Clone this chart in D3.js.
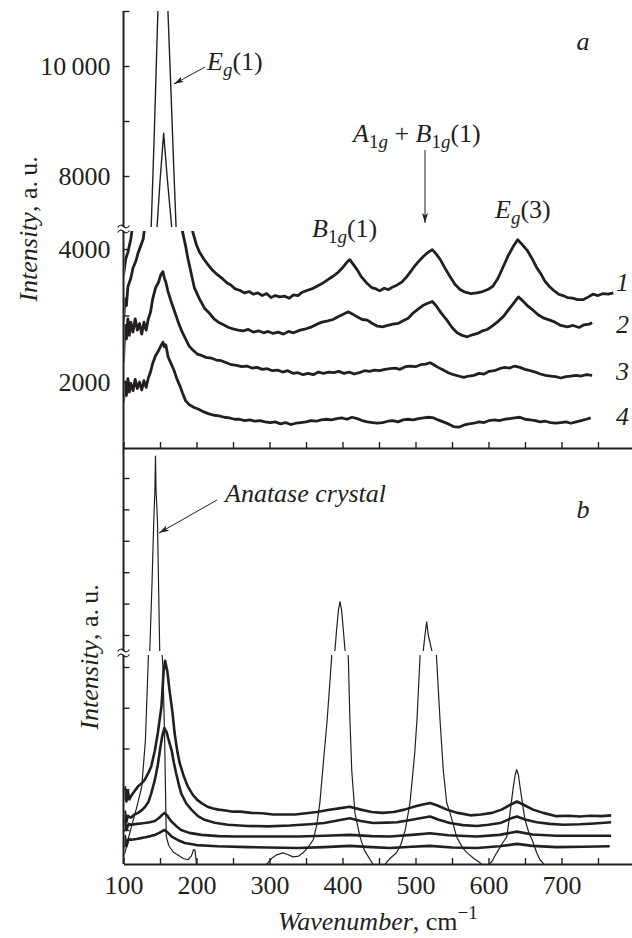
<!DOCTYPE html>
<html>
<head>
<meta charset="utf-8">
<script src="https://cdn.jsdelivr.net/npm/d3@7"></script>
<style>
  body { margin: 0; background: #fff; }
  svg { display: block; }
  text { font-family: "Liberation Serif", "Times New Roman", serif; font-size: 26px; fill: #231f20; }
</style>
</head>
<body>
<svg width="632" height="938"></svg>
<script>
let svg = d3.select("svg");

const INK = "#231f20";
const SUB = 19;

//////////// DATA ////////////
// tick labels
const ticksX = [100, 200, 300, 400, 500, 600, 700];
const labelsYa = { 2000: "2000", 4000: "4000", 8000: "8000", 10000: "10\u2009000" };
const curveLabels = ["1", "2", "3", "4"];

// panel a: Raman spectra of samples 1-4, [wavenumber, intensity]
const specA1 = [[100,3600],[103,3850],[106,3950],[110,4150],[114,4450],[120,5000],[128,5900],[134,6600],[138,7100],[142,8700],[147,10950],[151,12800],[154,13500],[157,12900],[161,10950],[165,9550],[169,8100],[172,7080],[178,5900],[186,4950],[195,4250],[200,4060],[204,3955],[210,3850],[216,3760],[222,3680],[229,3610],[236,3550],[242,3490],[247,3460],[253,3400],[259,3380],[266,3340],[272,3360],[278,3320],[284,3340],[290,3300],[296,3330],[302,3270],[308,3300],[314,3280],[321,3290],[327,3260],[333,3310],[339,3300],[345,3350],[352,3380],[358,3400],[365,3440],[372,3480],[380,3540],[387,3590],[394,3650],[401,3730],[406,3800],[410,3840],[414,3780],[420,3690],[426,3580],[433,3490],[440,3420],[446,3400],[451,3370],[457,3410],[463,3390],[469,3430],[475,3460],[481,3500],[487,3570],[492,3640],[498,3730],[504,3810],[510,3880],[516,3940],[523,3990],[528,3930],[534,3840],[540,3720],[547,3590],[554,3470],[561,3390],[568,3350],[576,3330],[584,3340],[592,3360],[599,3390],[606,3440],[613,3560],[620,3730],[627,3900],[634,4040],[640,4140],[646,4070],[653,3980],[660,3850],[666,3720],[671,3640],[677,3520],[683,3440],[689,3380],[696,3320],[702,3300],[708,3270],[715,3260],[722,3240],[730,3240],[737,3280],[743,3320],[750,3300],[757,3330],[764,3320],[771,3340]];
const specA2 = [[100,2900],[102,3250],[104,3150],[106,3430],[110,3560],[113,3714],[117,3820],[120,3940],[124,4060],[127,4150],[131,4500],[136,5400],[141,6200],[146,7080],[150,7900],[155,8780],[160,7950],[166,7080],[172,5600],[177,4750],[181,4250],[185,4050],[188,3870],[193,3620],[197,3420],[204,3250],[211,3110],[218,3030],[224,2950],[230,2900],[237,2860],[244,2820],[250,2800],[257,2780],[264,2770],[271,2790],[278,2750],[285,2770],[292,2740],[298,2760],[305,2730],[312,2750],[319,2720],[326,2760],[333,2740],[342,2780],[350,2800],[358,2830],[365,2870],[372,2900],[380,2920],[387,2940],[394,2980],[401,3020],[408,3055],[414,3020],[420,2980],[427,2940],[434,2930],[441,2880],[448,2840],[455,2830],[462,2850],[469,2870],[476,2880],[483,2920],[490,2960],[497,3040],[504,3100],[510,3150],[516,3180],[523,3210],[528,3150],[535,3040],[543,2930],[550,2820],[557,2740],[564,2700],[571,2680],[578,2710],[585,2730],[592,2770],[598,2790],[605,2840],[612,2900],[620,2980],[627,3080],[634,3180],[641,3280],[647,3220],[654,3140],[661,3080],[668,3010],[676,2960],[684,2930],[691,2900],[699,2850],[708,2830],[716,2850],[724,2820],[731,2860],[738,2870],[742,2890]];
const specA3 = [[100,2300],[102,2850],[104,2650],[106,2950],[108,2700],[110,2900],[113,2750],[116,2950],[119,2780],[122,2880],[125,2720],[128,2900],[131,2780],[134,2950],[137,3050],[140,3250],[144,3420],[148,3500],[151,3610],[154,3660],[156,3560],[158,3500],[161,3360],[165,3220],[170,3060],[175,2900],[180,2760],[185,2650],[190,2540],[195,2480],[201,2420],[207,2400],[213,2370],[220,2360],[227,2330],[234,2320],[241,2290],[248,2260],[255,2250],[262,2230],[269,2240],[276,2210],[283,2220],[290,2190],[297,2200],[304,2170],[311,2180],[318,2150],[325,2170],[332,2130],[339,2140],[346,2110],[353,2130],[360,2110],[367,2150],[374,2130],[381,2150],[388,2140],[395,2160],[402,2130],[409,2150],[416,2120],[423,2140],[430,2170],[437,2160],[444,2180],[451,2170],[458,2190],[465,2200],[472,2210],[479,2190],[486,2230],[493,2240],[500,2230],[507,2260],[514,2270],[520,2290],[525,2260],[531,2220],[538,2180],[545,2140],[552,2110],[559,2090],[566,2070],[573,2090],[580,2100],[587,2130],[594,2120],[601,2160],[608,2170],[615,2200],[622,2220],[629,2210],[636,2240],[643,2220],[650,2190],[657,2170],[664,2150],[671,2120],[678,2100],[685,2090],[692,2080],[699,2060],[706,2080],[713,2090],[720,2100],[727,2090],[734,2110],[742,2100]];
const specA4 = [[100,1700],[102,2000],[104,1800],[106,2050],[108,1850],[110,1980],[113,1870],[116,2040],[119,1900],[122,2000],[125,1880],[128,2020],[131,1920],[134,2060],[137,2150],[140,2280],[144,2400],[148,2470],[151,2540],[154,2600],[156,2530],[158,2560],[161,2380],[165,2280],[169,2180],[173,2050],[177,1950],[181,1830],[185,1720],[190,1660],[196,1620],[203,1590],[210,1550],[217,1520],[224,1500],[231,1490],[238,1470],[245,1460],[252,1440],[259,1440],[266,1420],[273,1430],[280,1410],[287,1420],[294,1400],[301,1390],[308,1400],[315,1370],[322,1390],[329,1360],[336,1380],[343,1390],[350,1400],[357,1420],[364,1410],[371,1430],[378,1440],[385,1430],[392,1450],[399,1460],[406,1440],[413,1470],[420,1450],[427,1420],[434,1400],[441,1390],[448,1380],[455,1390],[462,1410],[469,1420],[476,1400],[483,1430],[490,1440],[497,1430],[504,1450],[511,1460],[518,1470],[525,1460],[531,1430],[538,1400],[545,1370],[552,1330],[559,1320],[566,1350],[573,1370],[580,1380],[587,1400],[594,1390],[601,1420],[608,1430],[615,1420],[622,1440],[629,1450],[636,1460],[643,1470],[650,1440],[657,1430],[664,1420],[671,1400],[678,1410],[685,1390],[692,1380],[699,1390],[706,1400],[713,1380],[720,1400],[727,1420],[734,1440],[740,1460]];

// panel b: same samples (arbitrary units) and the anatase crystal reference
const specB1 = [[100,1.75],[102,2.05],[104,1.7],[106,1.95],[108,1.75],[111,1.85],[115,1.95],[120,2.07],[125,2.15],[129,2.23],[134,2.4],[138,2.56],[143,2.95],[147,3.38],[152,4.03],[155,4.9],[157,5.15],[160,4.9],[163,4.44],[167,3.9],[170,3.38],[174,2.9],[177,2.64],[182,2.35],[188,2.07],[195,1.86],[201,1.74],[207,1.66],[215,1.57],[223,1.53],[230,1.5],[240,1.48],[250,1.45],[260,1.45],[275,1.42],[290,1.41],[305,1.38],[320,1.38],[335,1.38],[350,1.41],[365,1.44],[380,1.49],[395,1.53],[410,1.57],[425,1.5],[440,1.44],[455,1.42],[470,1.44],[485,1.5],[500,1.58],[513,1.64],[520,1.66],[530,1.6],[543,1.5],[558,1.42],[575,1.36],[590,1.38],[605,1.42],[618,1.5],[630,1.62],[639,1.7],[648,1.62],[661,1.5],[675,1.42],[693,1.34],[710,1.35],[725,1.33],[740,1.35],[755,1.34],[768,1.36]];
const specB2 = [[100,1.15],[102,1.45],[104,1.2],[106,1.35],[110,1.3],[115,1.38],[120,1.42],[126,1.5],[130,1.58],[134,1.68],[138,1.9],[143,2.23],[147,2.6],[150,2.97],[153,3.3],[156,3.5],[159,3.4],[162,3.2],[166,2.95],[169,2.65],[172,2.4],[176,2.1],[179,1.9],[186,1.65],[193,1.5],[202,1.34],[211,1.25],[225,1.18],[243,1.13],[270,1.1],[298,1.09],[328,1.11],[355,1.14],[375,1.17],[395,1.24],[410,1.29],[425,1.22],[442,1.17],[460,1.18],[475,1.19],[495,1.25],[510,1.3],[520,1.33],[532,1.25],[547,1.17],[565,1.12],[584,1.1],[600,1.13],[616,1.17],[630,1.28],[639,1.33],[650,1.26],[666,1.19],[684,1.15],[703,1.13],[725,1.14],[745,1.16],[768,1.19]];
const specB3 = [[100,0.95],[102,1.25],[104,1.0],[107,1.15],[111,1.13],[118,1.15],[124,1.16],[129,1.17],[136,1.19],[143,1.22],[149,1.3],[153,1.37],[156,1.42],[160,1.35],[165,1.22],[172,1.1],[179,1.0],[190,0.93],[207,0.88],[230,0.85],[252,0.84],[300,0.84],[339,0.84],[375,0.86],[410,0.88],[440,0.85],[465,0.84],[495,0.88],[520,0.92],[545,0.87],[584,0.84],[615,0.88],[639,0.96],[660,0.89],[693,0.86],[730,0.86],[768,0.86]];
const specB4 = [[100,0.55],[102,0.85],[104,0.6],[107,0.78],[111,0.76],[118,0.78],[124,0.8],[130,0.82],[137,0.85],[143,0.88],[149,0.93],[153,0.97],[156,1.0],[160,0.95],[166,0.84],[175,0.75],[184,0.68],[200,0.63],[229,0.6],[270,0.58],[339,0.56],[375,0.58],[410,0.61],[440,0.58],[465,0.56],[495,0.59],[520,0.61],[550,0.57],[584,0.56],[615,0.6],[639,0.66],[660,0.61],[693,0.58],[730,0.59],[766,0.6]];
const specCrystal = [[100,0.35],[102,0.44],[106,0.75],[111,1.09],[118,1.55],[125,2.06],[130,3.2],[134,5.2],[136,7.6],[139,18],[141.5,28.3],[143,33],[143.8,38.5],[144.6,33],[146.5,28.3],[149.6,7.6],[151,5.9],[154,5.0],[156.4,3.2],[158.6,0.84],[162,0.62],[168,0.46],[175,0.38],[182,0.3],[188,0.27],[193,0.36],[196,0.52],[198,0.5],[200,0.15],[210,0.05],[290,0.05],[298,0.2],[304,0.32],[310,0.39],[318,0.44],[325,0.4],[332,0.34],[340,0.36],[346,0.44],[353,0.58],[360,0.76],[365,1.15],[369,1.67],[374,2.7],[379,3.7],[385,5.2],[389.7,7.6],[392,11],[394.5,14],[396.6,15.3],[398.7,14],[401,11],[403.4,7.6],[408,5.2],[410,3.8],[412.6,2.48],[417,1.42],[424,0.83],[430,0.5],[438,0.27],[443,0.12],[455,0.05],[460,0.2],[465,0.3],[474,0.44],[480,0.65],[486,1.0],[492.5,1.67],[499,2.9],[502,3.7],[506,5.18],[510.7,7.6],[513,10],[515.3,12.1],[517.5,10],[522.2,7.6],[529,5.18],[533.6,3.7],[538,2.48],[542.7,1.67],[547.3,1.42],[556.4,0.83],[565,0.55],[572,0.42],[580,0.3],[588,0.2],[594,0.1],[600,0.15],[604.4,0.22],[611.2,0.44],[620,0.7],[625,0.83],[629.5,1.42],[634,2.06],[636.5,2.35],[638.6,2.48],[641,2.35],[643.2,2.06],[647,1.6],[650,1.25],[655,0.95],[660,0.75],[666,0.44],[670.5,0.27],[675,0.18],[680,0.05],[770,0.05]];

//////////// LAYOUT ////////////
const LEFT = 123.5, RIGHT = 634.5;
const A_TOP = 11, A_BREAK = 229, A_BOTTOM = 448;
const B_BREAK = 653, B_BOTTOM = 864;

const x = d3.scaleLinear().domain([100, 800]).range([LEFT, RIGHT]);
// broken intensity axes: upper and lower part of each panel
const yAU = d3.scaleLinear().domain([8000, 11000]).range([176, A_TOP]);
const yAL = d3.scaleLinear().domain([2000, 4000]).range([382, 249]);
const yBU = d3.scaleLinear().domain([10, 35]).range([635, 478]);
const yBL = d3.scaleLinear().domain([1, 5]).range([830, 667]);

const defs = svg.append("defs");
const clips = {
  aUpper: [A_TOP, A_BREAK - 2],
  aLower: [A_BREAK + 2, A_BOTTOM],
  bUpper: [A_BOTTOM + 1, B_BREAK - 2],
  bLower: [B_BREAK + 2, B_BOTTOM],
};
Object.entries(clips).forEach(([id, [y0, y1]]) => {
  defs.append("clipPath").attr("id", id)
    .append("rect")
    .attr("x", LEFT + 1).attr("y", y0)
    .attr("width", 640 - LEFT).attr("height", y1 - y0);
});

defs.append("marker")
  .attr("id", "arrow")
  .attr("viewBox", "0 0 10 6")
  .attr("refX", 10).attr("refY", 3)
  .attr("markerWidth", 10).attr("markerHeight", 6)
  .attr("markerUnits", "userSpaceOnUse")
  .attr("orient", "auto")
  .append("path")
  .attr("d", "M0,0 L10,3 L0,6 L2.5,3 Z")
  .attr("fill", INK);

//////////// SPECTRA ////////////
function drawSpectrum(clipId, yScale, data, width) {
  svg.append("g")
    .attr("clip-path", `url(#${clipId})`)
    .append("path")
    .datum(data)
    .attr("fill", "none")
    .attr("stroke", INK)
    .attr("stroke-width", width)
    .attr("stroke-linejoin", "round")
    .attr("d", d3.line().x((d) => x(d[0])).y((d) => yScale(d[1])));
}

[specA1, specA2, specA3, specA4].forEach((s) => {
  drawSpectrum("aUpper", yAU, s, 1.4);
  drawSpectrum("aLower", yAL, s, 2.8);
});
[specB1, specB2, specB3, specB4].forEach((s) => {
  drawSpectrum("bUpper", yBU, s, 1.4);
  drawSpectrum("bLower", yBL, s, 2.6);
});
drawSpectrum("bUpper", yBU, specCrystal, 1.2);
drawSpectrum("bLower", yBL, specCrystal, 1.2);

//////////// AXES ////////////
const styleAxis = (g) => {
  g.attr("color", INK).attr("font-size", null).attr("font-family", null);
  g.select(".domain").attr("stroke-width", 2);
  g.selectAll(".tick line").attr("stroke-width", 1.4);
};

const xAxis = d3.axisBottom(x)
  .tickValues(d3.range(100, 751, 50))
  .tickSizeInner(-6).tickSizeOuter(0).tickPadding(12);

svg.append("g")
  .attr("transform", `translate(0,${A_BOTTOM})`)
  .call(xAxis.tickFormat(""))
  .call(styleAxis);

svg.append("g")
  .attr("transform", `translate(0,${B_BOTTOM})`)
  .call(xAxis.tickFormat((d) => (ticksX.includes(d) ? d : "")))
  .call(styleAxis);

const yAxis = (scale, values, labels) =>
  d3.axisLeft(scale)
    .tickValues(values)
    .tickSizeInner(-6).tickSizeOuter(0).tickPadding(13)
    .tickFormat((d) => labels[d] || "");

[
  [yAU, [8000, 9000, 10000, 11000], labelsYa],
  [yAL, [2000, 3000, 4000], labelsYa],
  [yBU, [10, 15, 20, 25, 30, 35], {}],
  [yBL, [1, 2, 3, 4, 5], {}],
].forEach(([scale, values, labels]) => {
  svg.append("g")
    .attr("transform", `translate(${LEFT},0)`)
    .call(yAxis(scale, values, labels))
    .call(styleAxis)
    .call((g) => g.select(".domain").remove());
});

// one continuous vertical axis line through both panels
svg.append("line")
  .attr("x1", LEFT).attr("x2", LEFT)
  .attr("y1", A_TOP).attr("y2", B_BOTTOM)
  .attr("stroke", INK).attr("stroke-width", 2);

// axis break marks
function drawBreak(y) {
  svg.append("rect")
    .attr("x", LEFT - 3).attr("y", y - 2)
    .attr("width", 6).attr("height", 4)
    .attr("fill", "#fff");
  [-2.5, 2.5].forEach((dy) => {
    svg.append("path")
      .attr("d", `M${LEFT - 6},${y + dy + 1} q3,-4 6,-1 t6,-1`)
      .attr("fill", "none")
      .attr("stroke", INK)
      .attr("stroke-width", 1.2);
  });
}
drawBreak(A_BREAK);
drawBreak(B_BREAK);

//////////// TEXT ////////////
// parts: {t, i: italic, sub, sup}
function richText(px, py, parts, anchor) {
  const t = svg.append("text")
    .attr("x", px).attr("y", py)
    .attr("text-anchor", anchor || "start");
  let shift = 0;
  parts.forEach((p) => {
    const want = p.sub ? 6 : p.sup ? -11 : 0;
    const ts = t.append("tspan").text(p.t)
      .style("font-style", p.i ? "italic" : "normal");
    if (p.sub || p.sup) ts.style("font-size", SUB + "px");
    if (want !== shift) {
      ts.attr("dy", want - shift);
      shift = want;
    }
  });
  return t;
}

richText(207, 70, [{ t: "E", i: 1 }, { t: "g", i: 1, sub: 1 }, { t: "(1)" }]);
richText(312, 237, [{ t: "B", i: 1 }, { t: "1", sub: 1 }, { t: "g", i: 1, sub: 1 }, { t: "(1)" }]);
richText(353, 142, [
  { t: "A", i: 1 }, { t: "1", sub: 1 }, { t: "g", i: 1, sub: 1 },
  { t: " + " },
  { t: "B", i: 1 }, { t: "1", sub: 1 }, { t: "g", i: 1, sub: 1 }, { t: "(1)" },
]);
richText(495, 218, [{ t: "E", i: 1 }, { t: "g", i: 1, sub: 1 }, { t: "(3)" }]);
richText(225, 502, [{ t: "Anatase crystal", i: 1 }]);

richText(583, 50, [{ t: "a", i: 1 }], "middle");
richText(583, 518, [{ t: "b", i: 1 }], "middle");

// sample numbers at the right end of each spectrum
const labelBaselines = [291, 333, 380, 425];
curveLabels.forEach((c, i) => richText(616, labelBaselines[i], [{ t: c, i: 1 }]));

richText(278, 930, [{ t: "Wavenumber", i: 1 }, { t: ", cm" }, { t: "\u22121", sup: 1 }]);

[[37, 229], [98, 657]].forEach(([tx, ty]) => {
  richText(0, 0, [{ t: "Intensity", i: 1 }, { t: ", a.\u2009u." }], "middle")
    .attr("transform", `translate(${tx},${ty}) rotate(-90)`);
});

// annotation arrows
[
  [205, 67, 174, 84],
  [425, 150, 425, 223],
  [217, 500, 159, 533],
].forEach(([x1, y1, x2, y2]) => {
  svg.append("line")
    .attr("x1", x1).attr("y1", y1).attr("x2", x2).attr("y2", y2)
    .attr("stroke", INK).attr("stroke-width", 1)
    .attr("marker-end", "url(#arrow)");
});
</script>
</body>
</html>
